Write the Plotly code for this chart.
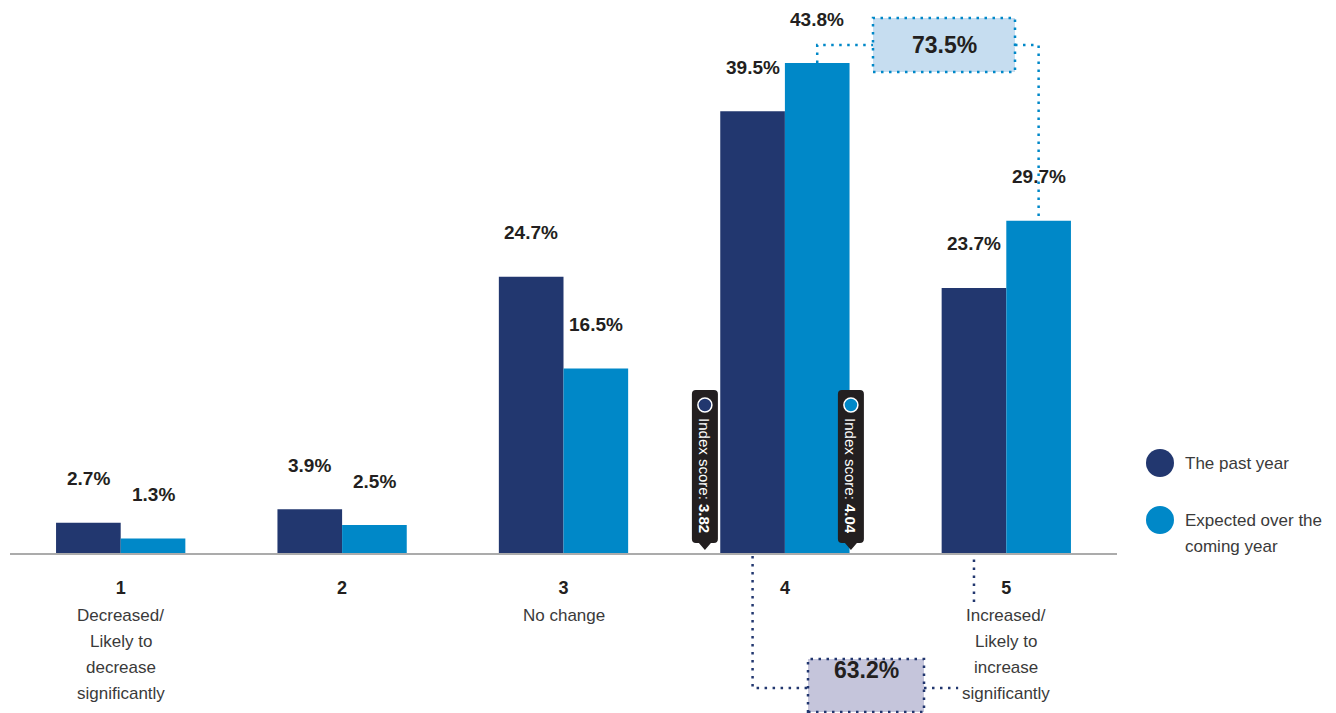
import plotly.graph_objects as go

# ---------------- data ----------------
categories = ["1", "2", "3", "4", "5"]
category_desc = [
    ["Decreased/", "Likely to", "decrease", "significantly"],
    [],
    ["No change"],
    [],
    ["Increased/", "Likely to", "increase", "significantly"],
]
series_names = ["The past year", "Expected over the coming year"]
past_year = [2.7, 3.9, 24.7, 39.5, 23.7]
coming_year = [1.3, 2.5, 16.5, 43.8, 29.7]
index_scores = [3.82, 4.04]

# ---------------- style ----------------
NAVY = "#22376F"
BLUE = "#0088C8"
TEXT = "#231F20"
GREY_TXT = "#3A3A3A"
FONT = "Liberation Sans, Arial, sans-serif"

W, H = 1336, 713
M_L, M_R, M_T, M_B = 10, 219, 10, 160
PLOT_H = H - M_T - M_B
Y_MAX = 48.54
BARGAP = 0.416
HALF = (1 - BARGAP) / 4          # offset of each bar centre from category centre
PX_PER_CAT = (W - M_L - M_R) / 5


def paper_y(px):
    """pixel row -> paper y"""
    return (H - M_B - px) / PLOT_H


def paper_x(px):
    return (px - M_L) / (W - M_L - M_R)


fig = go.Figure()
fig.add_trace(go.Bar(x=categories, y=past_year, name=series_names[0],
                     marker=dict(color=NAVY, line=dict(width=0)), showlegend=False))
fig.add_trace(go.Bar(x=categories, y=coming_year, name=series_names[1],
                     marker=dict(color=BLUE, line=dict(width=0)), showlegend=False))

annotations = []
shapes = []

# value labels
for i in range(len(categories)):
    for vals, off in ((past_year, -HALF), (coming_year, HALF)):
        annotations.append(dict(
            x=i + off, y=vals[i], xref="x", yref="y", text=f"<b>{vals[i]:.1f}%</b>",
            showarrow=False, yshift=44, yanchor="middle", xanchor="center",
            font=dict(family=FONT, size=19, color=TEXT)))

# index score markers
i4 = categories.index("4")
i5 = categories.index("5")
marker_offsets = [-80 / PX_PER_CAT, 66 / PX_PER_CAT]
for score, off, col in zip(index_scores, marker_offsets, (NAVY, BLUE)):
    xa = i4 + off
    shapes.append(dict(
        type="path", xref="x", yref="y", xsizemode="pixel", ysizemode="pixel",
        xanchor=xa, yanchor=0,
        path=("M -13,14 L -13,159 Q -13,163 -9,163 L 9,163 Q 13,163 13,159 "
              "L 13,14 Q 13,10 9,10 L 6,10 L 0,3 L -6,10 L -9,10 Q -13,10 -13,14 Z"),
        fillcolor=TEXT, line=dict(width=0), layer="above"))
    shapes.append(dict(
        type="circle", xref="x", yref="y", xsizemode="pixel", ysizemode="pixel",
        xanchor=xa, yanchor=0, x0=-7, x1=7, y0=141, y1=155,
        fillcolor=col, line=dict(color="white", width=1.5), layer="above"))
    annotations.append(dict(
        x=xa, y=0, xref="x", yref="y", yshift=77, textangle=90,
        text=f"Index score: <b>{score:.2f}</b>", showarrow=False,
        xanchor="center", yanchor="middle",
        font=dict(family=FONT, size=15, color="white")))

DOT = "2.5px,5.5px"

# ---- top connector (Expected: 4 + 5) ----
c4 = M_L + PX_PER_CAT * (i4 + 0.5)
top_sum = coming_year[i4] + coming_year[i5]
y_lvl = (H - M_B - 45) / PLOT_H * Y_MAX
bx0, bx1 = i4 + (873 - c4) / PX_PER_CAT, i4 + (1015 - c4) / PX_PER_CAT
by0, by1 = (H - M_B - 72) / PLOT_H * Y_MAX, (H - M_B - 18) / PLOT_H * Y_MAX
top_line = dict(color=BLUE, width=2.5, dash=DOT)
shapes += [
    dict(type="path", xref="x", yref="y",
         path=f"M {i4 + HALF},{coming_year[i4]} L {i4 + HALF},{y_lvl} L {bx0},{y_lvl}",
         line=top_line, layer="above"),
    dict(type="path", xref="x", yref="y",
         path=f"M {bx1},{y_lvl} L {i5 + HALF},{y_lvl} L {i5 + HALF},{coming_year[i5]}",
         line=top_line, layer="above"),
    dict(type="rect", xref="x", yref="y", x0=bx0, x1=bx1, y0=by0, y1=by1,
         fillcolor="#C6DDF0", line=top_line, layer="above"),
]
annotations.append(dict(x=(bx0 + bx1) / 2, y=(by0 + by1) / 2, xref="x", yref="y",
                        text=f"<b>{top_sum:.1f}%</b>", showarrow=False,
                        font=dict(family=FONT, size=23, color=TEXT)))

# ---- bottom connector (Past year: 4 + 5) ----
past_sum = past_year[i4] + past_year[i5]
qx0, qx1 = i4 + (808 - c4) / PX_PER_CAT, i4 + (924 - c4) / PX_PER_CAT
y_top, y_low = paper_y(556), paper_y(688)
qy0, qy1 = paper_y(712), paper_y(659)
bot_line = dict(color=NAVY, width=2.5, dash=DOT)
shapes += [
    dict(type="path", xref="x", yref="paper",
         path=f"M {i4 - HALF},{y_top} L {i4 - HALF},{y_low} L {qx0},{y_low}",
         line=bot_line, layer="above"),
    dict(type="path", xref="x", yref="paper",
         path=f"M {qx1},{y_low} L {i5 - HALF},{y_low} L {i5 - HALF},{y_top}",
         line=bot_line, layer="above"),
    dict(type="rect", xref="x", yref="paper", x0=qx0, x1=qx1, y0=qy0, y1=qy1,
         fillcolor="#C5C5DB", line=bot_line, layer="above"),
]
annotations.append(dict(x=(qx0 + qx1) / 2, y=(qy0 + qy1) / 2, xref="x", yref="paper",
                        text=f"<b>{past_sum:.1f}%</b>", showarrow=False,
                        font=dict(family=FONT, size=23, color=TEXT)))

# category descriptions (white backing so connector lines pass behind text)
for i, lines in enumerate(category_desc):
    if not lines:
        continue
    shapes.append(dict(type="rect", xref="x", yref="paper",
                       x0=i - 48 / PX_PER_CAT, x1=i + 48 / PX_PER_CAT,
                       y0=paper_y(H), y1=paper_y(603),
                       fillcolor="white", line=dict(width=0), layer="above"))
    for j, line in enumerate(lines):
        annotations.append(dict(
            x=i, y=paper_y(615 + 26 * j), xref="x", yref="paper", text=line,
            showarrow=False, yanchor="middle", xanchor="center",
            font=dict(family=FONT, size=17, color=GREY_TXT)))

# ---- custom legend ----
legend_rows = [(463, [series_names[0]]), (520, ["Expected over the", "coming year"])]
for (cy, lines), col in zip(legend_rows, (NAVY, BLUE)):
    shapes.append(dict(type="circle", xref="paper", yref="paper",
                       xsizemode="pixel", ysizemode="pixel",
                       xanchor=paper_x(1160), yanchor=paper_y(cy),
                       x0=-14, x1=14, y0=-14, y1=14,
                       fillcolor=col, line=dict(width=0)))
    for j, line in enumerate(lines):
        annotations.append(dict(x=paper_x(1183), y=paper_y(cy + 26 * j),
                                xref="paper", yref="paper", text=line,
                                showarrow=False, xanchor="left", yanchor="middle",
                                font=dict(family=FONT, size=17, color=GREY_TXT)))

fig.update_layout(
    width=W, height=H,
    margin=dict(l=M_L, r=M_R, t=M_T, b=M_B),
    paper_bgcolor="white", plot_bgcolor="white",
    barmode="group", bargap=BARGAP, bargroupgap=0,
    showlegend=False,
    xaxis=dict(type="category", range=[-0.5, 4.5], showgrid=False, zeroline=False,
               showline=True, linecolor="#ABABAB", linewidth=2, ticks="",
               tickvals=categories, ticktext=[f"<b>{c}</b>" for c in categories],
               tickfont=dict(family=FONT, size=18, color=TEXT),
               ticklabelstandoff=17),
    yaxis=dict(range=[0, Y_MAX], showgrid=False, zeroline=False,
               showticklabels=False, showline=False),
    shapes=shapes, annotations=annotations,
)

fig.write_html("out.html")
